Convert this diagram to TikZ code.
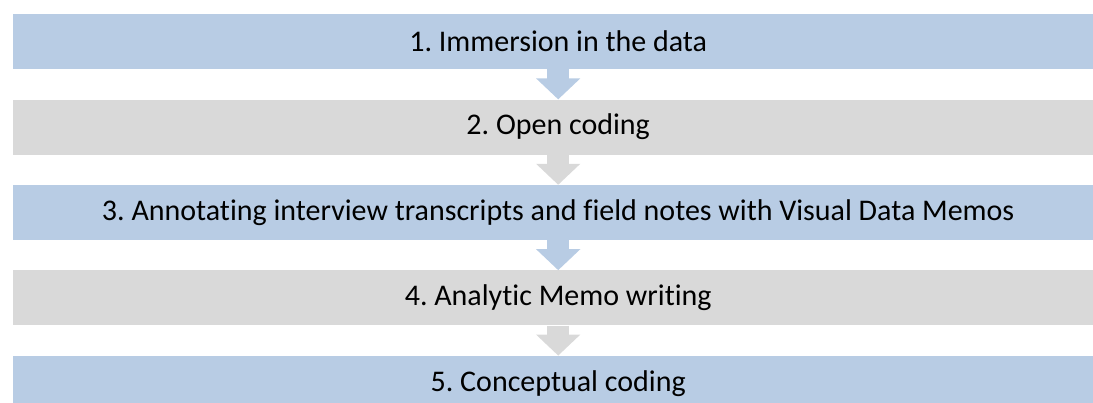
\documentclass[tikz,border=0pt]{standalone}
\usepackage{fontspec}
\setmainfont{Carlito}[Ligatures=NoCommon]
\usepackage{xcolor}
\usepackage{tikz}
\usetikzlibrary{
  arrows.meta,
  positioning
}
\frenchspacing
\definecolor{stBlue}{HTML}{B8CCE4}
\definecolor{stGray}{HTML}{D9D9D9}
\tikzset{
  stage/.style={
    inner sep=0pt, minimum width=1090pt, minimum height=55pt,
    font=\fontsize{30}{35}\selectfont, align=center, anchor=north west
  },
  bluestage/.style={stage, fill=stBlue},
  graystage/.style={stage, fill=stGray},
  stepflow/.style={line width=22pt, -{Triangle[width=43pt, length=21pt]}},
  blueflow/.style={stepflow, stBlue},
  grayflow/.style={stepflow, stGray}
}

\begin{document}
\begin{tikzpicture}[node distance=30pt]
  \useasboundingbox (0,0) rectangle (1093pt,-403pt);
  \node[bluestage] (a) at (13pt,-14pt) {1. Immersion in the data};
  \node[graystage, below=of a.south west, anchor=north west] (b) {2. Open coding};
  \node[bluestage, below=of b.south west, anchor=north west] (c) {3. Annotating interview transcripts and field notes with Visual Data Memos};
  \node[graystage, below=of c.south west, anchor=north west] (d) {4. Analytic Memo writing};
  \node[bluestage, below=of d.south west, anchor=north west] (e) {5. Conceptual coding};
  % arrows between stages
  \draw[blueflow] (a.south) -- (b.north);
  \draw[grayflow] (b.south) -- (c.north);
  \draw[blueflow] (c.south) -- (d.north);
  \draw[grayflow] (d.south) -- (e.north);
\end{tikzpicture}
\end{document}
